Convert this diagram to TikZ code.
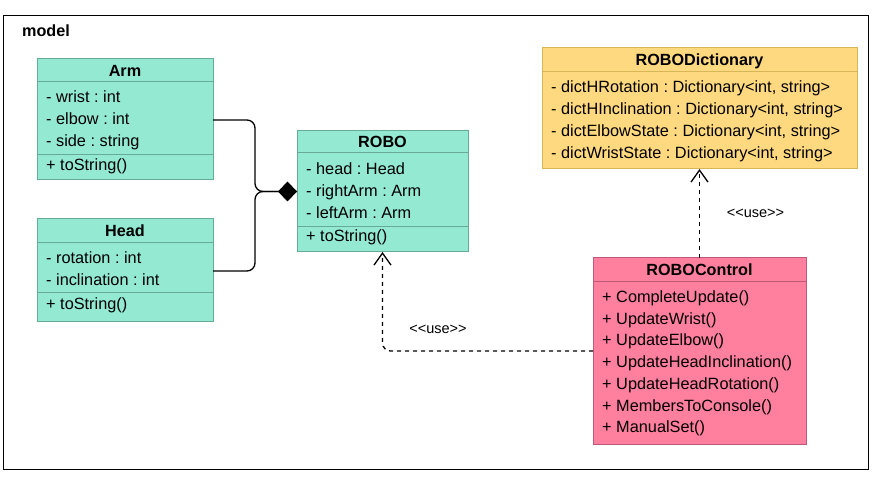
\documentclass[tikz,border=0pt]{standalone}
\usepackage{fontspec}
\setmainfont{Liberation Sans}
\usetikzlibrary{arrows.meta}
\definecolor{tealfill}{RGB}{147,233,210}
\definecolor{tealline}{RGB}{103,171,150}
\definecolor{yelfill}{RGB}{255,217,128}
\definecolor{yelline}{RGB}{214,182,86}
\definecolor{pinkfill}{RGB}{255,127,158}
\definecolor{pinkline}{RGB}{190,90,120}
\frenchspacing
\begin{document}
\begin{tikzpicture}[x=1pt,y=-1pt,
  box/.style={draw, line width=1pt, anchor=north west, inner sep=0pt, outer sep=0pt},
  tealbox/.style={box, draw=tealline, fill=tealfill},
  yelbox/.style={box, draw=yelline, fill=yelfill},
  pinkbox/.style={box, draw=pinkline, fill=pinkfill},
  sepline/.style={line width=1pt},
  rowtext/.style={anchor=base west, inner sep=0pt, font=\fontsize{16.3}{19}\selectfont\frenchspacing},
  headtext/.style={anchor=base, inner sep=0pt, font=\fontsize{16.2}{19}\selectfont\bfseries},
  uselabel/.style={anchor=center, inner sep=0pt, font=\fontsize{14.5}{17}\selectfont},
  comp/.style={line width=1.3pt, rounded corners=8pt},
  dep/.style={line width=1.3pt, dash pattern=on 4pt off 4pt, rounded corners=8pt,
    -{Straight Barb[length=12pt,width=17pt,line width=1.3pt]}},
]
\useasboundingbox (0,0) rectangle (889,478);
\node[draw, line width=1.3pt, anchor=north west, inner sep=0pt, minimum width=865pt, minimum height=454pt] (frame) at (3,15) {};
\node[anchor=base west, inner sep=0pt, font=\fontsize{16.2}{19}\selectfont\bfseries] (modellabel) at (22,37) {model};

% Arm
\node[tealbox, minimum width=176pt, minimum height=121pt] (arm) at (37,59) {};
\draw[sepline, tealline] ([yshift=-23pt]arm.north west) -- ([yshift=-23pt]arm.north east);
\draw[sepline, tealline] ([yshift=-96pt]arm.north west) -- ([yshift=-96pt]arm.north east);
\node[headtext] (armT) at (125,77) {Arm};
\node[rowtext] (arm1) at (46,102.5) {- wrist : int};
\node[rowtext] (arm2) at (46,124.5) {- elbow : int};
\node[rowtext] (arm3) at (46,146.5) {- side : string};
\node[rowtext] (arm4) at (46,170.5) {+ toString()};

% Head
\node[tealbox, minimum width=176pt, minimum height=103pt] (head) at (37,219) {};
\draw[sepline, tealline] ([yshift=-24pt]head.north west) -- ([yshift=-24pt]head.north east);
\draw[sepline, tealline] ([yshift=-74pt]head.north west) -- ([yshift=-74pt]head.north east);
\node[headtext] (headT) at (125,237) {Head};
\node[rowtext] (head1) at (46,263.5) {- rotation : int};
\node[rowtext] (head2) at (46,285.5) {- inclination : int};
\node[rowtext] (head3) at (46,309.5) {+ toString()};

% ROBO
\node[tealbox, minimum width=171pt, minimum height=121pt] (robo) at (297,131) {};
\draw[sepline, tealline] ([yshift=-22pt]robo.north west) -- ([yshift=-22pt]robo.north east);
\draw[sepline, tealline] ([yshift=-96pt]robo.north west) -- ([yshift=-96pt]robo.north east);
\node[headtext] (roboT) at (382.5,148) {ROBO};
\node[rowtext] (robo1) at (306,174.5) {- head : Head};
\node[rowtext] (robo2) at (306,196.5) {- rightArm : Arm};
\node[rowtext] (robo3) at (306,218.5) {- leftArm : Arm};
\node[rowtext] (robo4) at (306,241.5) {+ toString()};

% ROBODictionary
\node[yelbox, minimum width=315pt, minimum height=121pt] (dict) at (542,48) {};
\draw[sepline, yelline] ([yshift=-24pt]dict.north west) -- ([yshift=-24pt]dict.north east);
\node[headtext] (dictT) at (699.5,66) {ROBODictionary};
\node[rowtext] (dict1) at (551,92.5) {- dictHRotation : Dictionary<int, string>};
\node[rowtext] (dict2) at (551,114.5) {- dictHInclination : Dictionary<int, string>};
\node[rowtext] (dict3) at (551,136.5) {- dictElbowState : Dictionary<int, string>};
\node[rowtext] (dict4) at (551,158.5) {- dictWristState : Dictionary<int, string>};

% ROBOControl
\node[pinkbox, minimum width=213pt, minimum height=186pt] (ctrl) at (593,258) {};
\draw[sepline, pinkline] ([yshift=-24pt]ctrl.north west) -- ([yshift=-24pt]ctrl.north east);
\node[headtext] (ctrlT) at (699.5,276) {ROBOControl};
\node[rowtext] (ctrl1) at (602,302.5) {+ CompleteUpdate()};
\node[rowtext] (ctrl2) at (602,324.2) {+ UpdateWrist()};
\node[rowtext] (ctrl3) at (602,345.9) {+ UpdateElbow()};
\node[rowtext] (ctrl4) at (602,367.6) {+ UpdateHeadInclination()};
\node[rowtext] (ctrl5) at (602,389.3) {+ UpdateHeadRotation()};
\node[rowtext] (ctrl6) at (602,411) {+ MembersToConsole()};
\node[rowtext] (ctrl7) at (602,432.7) {+ ManualSet()};

% composition connectors
\draw[comp] ([yshift=-61pt]arm.north east) -- ++(42,0) |- (robo.west);
\draw[comp, -{Diamond[length=19pt,width=20pt]}] ([yshift=-52pt]head.north east) -- ++(42,0) |- (robo.west);

% dependencies
\draw[dep] (ctrl.north) -- (dict.south);
\draw[dep] (ctrl.west) -| (robo.south);
\node[uselabel] (use1) at (755.5,213) {<{}<use>{}>};
\node[uselabel] (use2) at (438,329) {<{}<use>{}>};
\end{tikzpicture}
\end{document}
